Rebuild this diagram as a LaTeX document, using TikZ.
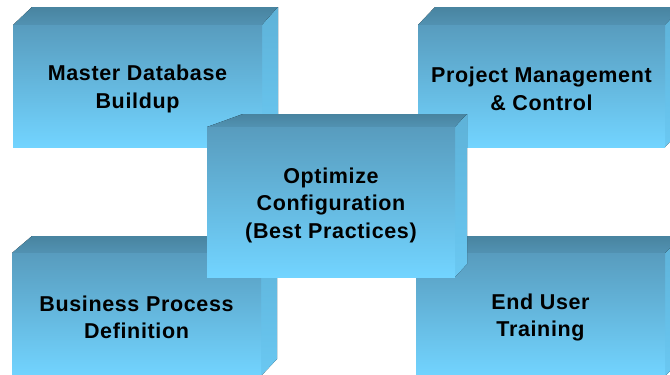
\documentclass[tikz,border=0pt]{standalone}
\usepackage{fontspec}
\setmainfont{Liberation Sans}[LetterSpace=3]
\definecolor{frontTop}{RGB}{88,156,190}
\definecolor{frontBot}{RGB}{114,212,255}
\definecolor{topBack}{RGB}{72,132,160}
\definecolor{topFront}{RGB}{82,146,178}
\definecolor{sideTop}{RGB}{94,178,216}
\definecolor{sideBot}{RGB}{106,200,242}
\tikzset{
  frontface/.style={top color=frontTop, bottom color=frontBot, draw=none},
  topface/.style={top color=topBack, bottom color=topFront, draw=none},
  sideface/.style={top color=sideTop, bottom color=sideBot, draw=none},
  boxlabel/.style={align=center, font=\fontsize{21.5}{27.5}\selectfont\bfseries, text=black, inner sep=0pt, yshift=-3pt}
}
% #1 x1, #2 y1, #3 x2, #4 y2, #5 dl, #6 dr, #7 dy, #8 name, #9 text
\newcommand\cubebox[9]{%
  \fill[topface] (#1,#2) -- (#1+#5,#2-#7) -- (#3+#6,#2-#7) -- (#3,#2) -- cycle;
  \fill[sideface] (#3,#2) -- (#3+#6,#2-#7) -- (#3+#6,#4-#7) -- (#3,#4) -- cycle;
  \fill[frontface] (#1,#2) rectangle (#3,#4);
  \node[boxlabel] (#8) at ({(#1+#3)/2},{(#2+#4)/2}) {#9};
}
\begin{document}
\begin{tikzpicture}[x=1pt,y=-1pt]
\useasboundingbox (0,0) rectangle (670,375);
\clip (0,0) rectangle (670,375);
\fill[white] (0,0) rectangle (670,375);
\cubebox{13}{25}{262}{147}{19}{16}{18}{mdb}{Master Database\\Buildup}
\cubebox{418}{25}{665}{147}{17}{17}{18}{pmc}{Project Management\\\& Control}
\cubebox{12}{253}{261}{376}{20}{16}{17}{bpd}{Business Process\\Definition}
\cubebox{416}{253}{665}{376}{18}{17}{17}{eut}{End User\\Training}
\cubebox{207}{127}{455}{277}{36}{12}{13}{opt}{Optimize\\Configuration\\(Best Practices)}
\end{tikzpicture}
\end{document}
